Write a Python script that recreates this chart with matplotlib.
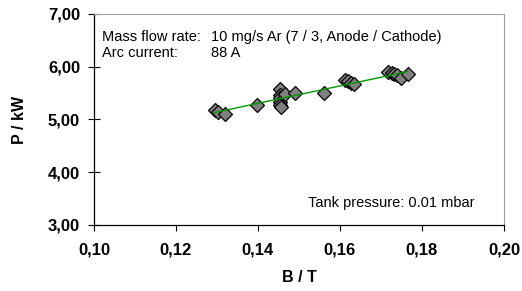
import matplotlib
matplotlib.use("Agg")
import matplotlib.pyplot as plt
import numpy as np
from matplotlib.ticker import FuncFormatter

plt.rcParams["font.family"] = ["Liberation Sans", "DejaVu Sans"]

# measured points: magnetic field B (T) vs. power P (kW)
b_field = [0.1294, 0.1302, 0.1319, 0.1397,
           0.1453, 0.1453, 0.1453, 0.1453, 0.1453, 0.1455, 0.1465, 0.1490,
           0.1560, 0.1613, 0.1620, 0.1627, 0.1635,
           0.1718, 0.1726, 0.1732, 0.1740, 0.1749, 0.1765]
power = [5.17, 5.15, 5.10, 5.27,
         5.57, 5.46, 5.40, 5.34, 5.28, 5.24, 5.48, 5.51,
         5.51, 5.74, 5.72, 5.70, 5.67,
         5.90, 5.88, 5.86, 5.84, 5.78, 5.86]

x_ticks = [0.10, 0.12, 0.14, 0.16, 0.18, 0.20]
y_ticks = [3.0, 4.0, 5.0, 6.0, 7.0]

fig = plt.figure(figsize=(5.22, 2.91), dpi=100)
ax = fig.add_axes([0.180, 0.227, 0.7855, 0.725])

# linear trend line over the data range
coef = np.polyfit(b_field, power, 1)
xfit = np.array([min(b_field), max(b_field)])
ax.plot(xfit, np.polyval(coef, xfit), color="#009900", lw=1.0, zorder=3)

ax.plot(b_field, power, "D", ms=7, mfc="#808080", mec="black", mew=0.9,
        linestyle="none", zorder=2)

ax.set_xlim(0.10, 0.20)
ax.set_ylim(3.0, 7.0)
ax.set_xticks(x_ticks)
ax.set_yticks(y_ticks)
fmt = FuncFormatter(lambda v, p: f"{v:.2f}".replace(".", ","))
ax.xaxis.set_major_formatter(fmt)
ax.yaxis.set_major_formatter(fmt)
ax.tick_params(axis="x", direction="out", length=4, width=0.8, pad=8.5,
               labelsize=12)
ax.tick_params(axis="y", direction="inout", length=9, width=0.8, pad=5.5,
               labelsize=12)
for lbl in ax.get_xticklabels() + ax.get_yticklabels():
    lbl.set_fontweight("bold")

for side in ["top", "right"]:
    ax.spines[side].set_color("#a0a0a0")
for side in ["left", "bottom"]:
    ax.spines[side].set_color("black")
    ax.spines[side].set_linewidth(0.9)

ax.set_xlabel("B / T", fontsize=11.5, fontweight="bold", labelpad=9)
ax.set_ylabel("P / kW", fontsize=11.5, fontweight="bold", labelpad=15)

ax.text(0.020, 0.870, "Mass flow rate:", transform=ax.transAxes,
        fontsize=10.5, va="baseline")
ax.text(0.285, 0.870, "10 mg/s Ar (7 / 3, Anode / Cathode)",
        transform=ax.transAxes, fontsize=10.5, va="baseline")
ax.text(0.020, 0.795, "Arc current:", transform=ax.transAxes, fontsize=10.5,
        va="baseline")
ax.text(0.285, 0.795, "88 A", transform=ax.transAxes, fontsize=10.5,
        va="baseline")
ax.text(0.929, 0.087, "Tank pressure: 0.01 mbar", transform=ax.transAxes,
        fontsize=10.5, va="baseline", ha="right")

fig.savefig("out.png", dpi=100)
